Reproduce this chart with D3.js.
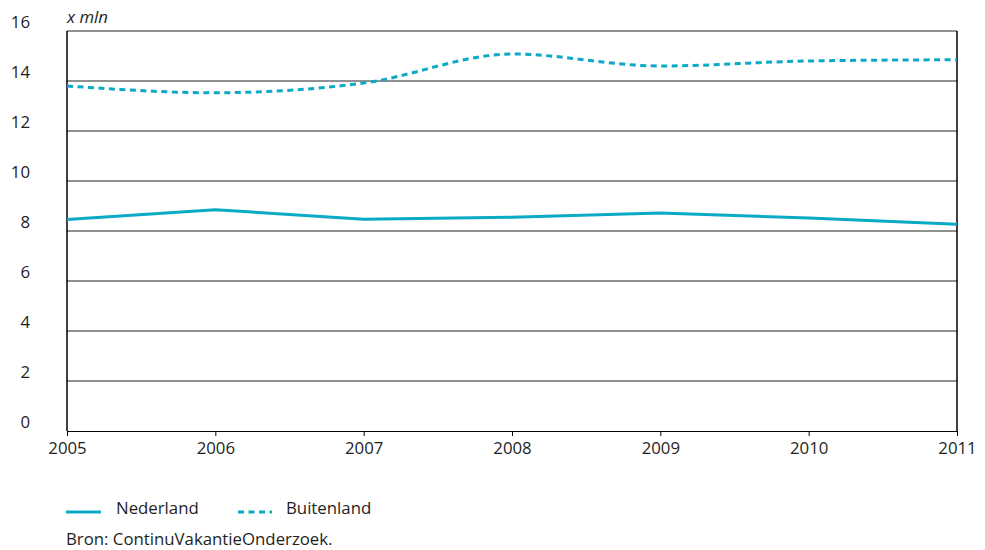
<!DOCTYPE html>
<html><head><meta charset="utf-8">
<script src="https://cdn.jsdelivr.net/npm/d3@7"></script>
<style>
html,body{margin:0;padding:0;background:#fff;}
text{font-family:"Open Sans","Noto Sans",sans-serif;fill:#1e1e1e;}
</style></head>
<body><svg id="c" width="985" height="550"></svg>
<script>
const years = [2005, 2006, 2007, 2008, 2009, 2010, 2011];
const nederland = [8.46, 8.85, 8.47, 8.55, 8.72, 8.52, 8.27];
const buitenland = [13.8, 13.53, 13.92, 15.08, 14.6, 14.8, 14.85];
const yTicks = [0, 2, 4, 6, 8, 10, 12, 14, 16];
const seriesNames = ["Nederland", "Buitenland"];
const unitLabel = "x mln";
const sourceText = "Bron: ContinuVakantieOnderzoek.";

const color = "#0aa9c6";
const fs = 16.8;
const svg = d3.select("#c");
const x = d3.scaleLinear().domain([2005, 2011]).range([67, 957]);
const y = d3.scaleLinear().domain([0, 16]).range([431, 31]);

// gridlines
svg.append("g").selectAll("line").data(yTicks.filter(d => d > 0)).join("line")
  .attr("x1", x(2005)).attr("x2", x(2011))
  .attr("y1", d => y(d)).attr("y2", d => y(d))
  .attr("stroke", "#222").attr("stroke-width", 1);

// y labels
svg.append("g").selectAll("text").data(yTicks).join("text")
  .attr("x", 30).attr("y", d => y(d) - 3)
  .attr("text-anchor", "end").attr("font-size", fs).text(d => d);

// x axis
const xAxis = d3.axisBottom(x).tickValues(years).tickFormat(d3.format("d")).tickSize(5).tickPadding(6);
const gx = svg.append("g").attr("transform", `translate(0,${y(0)})`).call(xAxis);
gx.select(".domain").attr("stroke", "#000");
gx.selectAll(".tick line").attr("stroke", "#000");
gx.selectAll(".tick text").attr("font-size", fs).attr("fill", "#1e1e1e")
  .attr("font-family", '"Open Sans","Noto Sans",sans-serif');

// left & right borders
svg.append("line").attr("x1", x(2005)).attr("x2", x(2005)).attr("y1", y(16)).attr("y2", y(0))
  .attr("stroke", "#000").attr("stroke-width", 1.5);
svg.append("line").attr("x1", x(2011)).attr("x2", x(2011)).attr("y1", y(16)).attr("y2", y(0))
  .attr("stroke", "#000").attr("stroke-width", 1.5);

// unit label
svg.append("text").attr("x", 67).attr("y", 23).attr("font-size", fs).attr("font-style", "italic").text(unitLabel);

// lines
const lineN = d3.line().x((d, i) => x(years[i])).y(d => y(d));
const lineB = d3.line().x((d, i) => x(years[i])).y(d => y(d)).curve(d3.curveMonotoneX);
svg.append("path").datum(nederland).attr("d", lineN)
  .attr("fill", "none").attr("stroke", color).attr("stroke-width", 3);
svg.append("path").datum(buitenland).attr("d", lineB)
  .attr("fill", "none").attr("stroke", color).attr("stroke-width", 3)
  .attr("stroke-dasharray", "6,4.5");

// legend
const leg = svg.append("g");
leg.append("line").attr("x1", 66).attr("x2", 101).attr("y1", 512).attr("y2", 512)
  .attr("stroke", color).attr("stroke-width", 3);
leg.append("text").attr("x", 116).attr("y", 514).attr("font-size", fs).text(seriesNames[0]);
leg.append("line").attr("x1", 238).attr("x2", 272).attr("y1", 512).attr("y2", 512)
  .attr("stroke", color).attr("stroke-width", 3).attr("stroke-dasharray", "6,4.5");
leg.append("text").attr("x", 286).attr("y", 514).attr("font-size", fs).text(seriesNames[1]);

svg.append("text").attr("x", 66).attr("y", 545).attr("font-size", fs).text(sourceText);
</script></body></html>
